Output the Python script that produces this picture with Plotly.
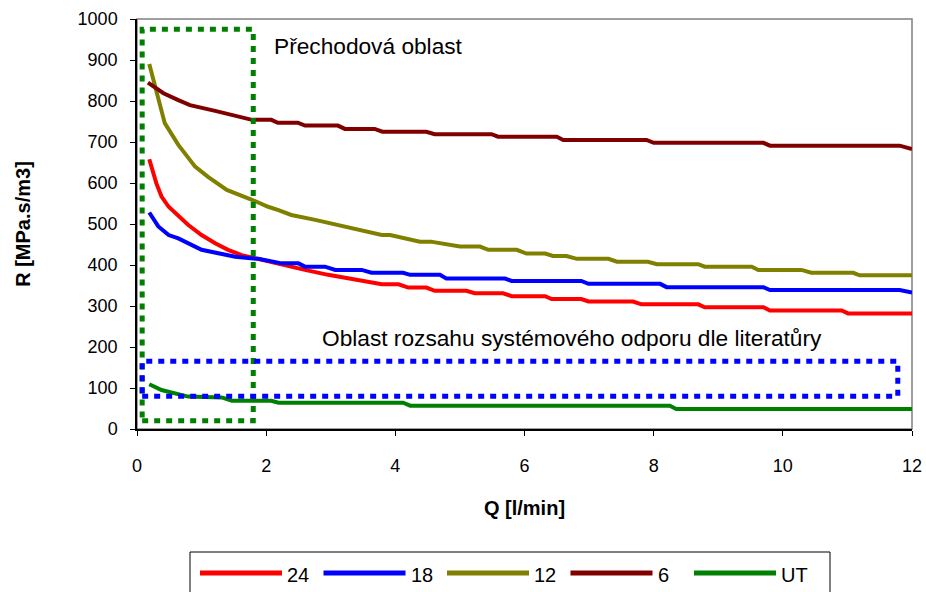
import plotly.graph_objects as go

# ---- data ----
q_24 = [0.19, 0.30, 0.38, 0.49, 0.79, 1.00, 1.21, 1.41, 1.62, 1.83, 2.24, 2.60, 2.96, 3.43, 3.79,
        4.05, 4.20, 4.48, 4.61, 5.10, 5.23, 5.67, 5.80, 6.32, 6.42, 6.88, 6.99, 7.68, 7.81,
        8.69, 8.79, 9.70, 9.80, 10.91, 11.01, 12.0]
r_24 = [658, 599, 567, 542, 498, 473, 453, 437, 424, 416, 400, 388, 376, 363, 353,
        353, 345, 345, 337, 337, 331, 331, 324, 324, 317, 317, 311, 311, 304,
        304, 297, 297, 289, 289, 282, 282]

q_18 = [0.19, 0.33, 0.49, 0.64, 1.00, 1.52, 1.88, 2.24, 2.50, 2.60, 2.91, 3.07, 3.48, 3.63,
        4.12, 4.23, 4.69, 4.79, 5.70, 5.80, 6.88, 6.99, 8.10, 8.20, 9.70, 9.80, 11.81, 12.0]
r_18 = [528, 494, 473, 465, 437, 420, 415, 404, 404, 396, 396, 388, 388, 381,
        381, 376, 376, 367, 367, 361, 361, 354, 354, 346, 346, 339, 339, 333]

q_12 = [0.19, 0.43, 0.64, 0.90, 1.10, 1.39, 1.78, 2.03, 2.19, 2.39, 2.76, 3.79, 3.92,
        4.38, 4.55, 5.00, 5.31, 5.44, 5.88, 6.03, 6.32, 6.44, 6.65, 6.81, 7.30, 7.43, 7.91,
        8.05, 8.69, 8.79, 9.52, 9.62, 10.29, 10.44, 11.09, 11.19, 12.0]
r_12 = [890, 746, 693, 640, 615, 583, 559, 542, 534, 522, 510, 473, 473,
        457, 457, 445, 445, 437, 437, 428, 428, 422, 422, 415, 415, 408, 408,
        402, 402, 396, 396, 388, 388, 381, 381, 375, 375]

q_6 = [0.17, 0.41, 0.64, 0.82, 1.21, 1.52, 1.78, 2.08, 2.18, 2.49, 2.60, 3.11, 3.22, 3.68,
       3.80, 4.48, 4.61, 5.49, 5.59, 6.50, 6.60, 7.89, 8.00, 9.70, 9.80, 11.81, 12.0]
r_6 = [845, 819, 802, 790, 776, 763, 754, 754, 747, 747, 740, 740, 732, 732,
       725, 725, 719, 719, 713, 713, 705, 705, 698, 698, 691, 691, 683]

q_ut = [0.19, 0.38, 0.79, 1.31, 1.47, 2.08, 2.19, 4.12, 4.23, 8.25, 8.35, 12.0]
r_ut = [109, 95, 79, 77, 69, 69, 64, 64, 57, 57, 49, 49]

series_names = ["24", "18", "12", "6", "UT"]
series_q = [q_24, q_18, q_12, q_6, q_ut]
series_r = [r_24, r_18, r_12, r_6, r_ut]
series_colors = ["#FF0000", "#0000FF", "#808000", "#800000", "#008000"]

# regions (data coordinates)
trans_box = dict(x0=0.08, x1=1.80, y0=20, y1=975)
lit_box = dict(x0=0.08, x1=11.78, y0=80, y1=165)
trans_label = "Přechodová oblast"
lit_label = "Oblast rozsahu systémového odporu dle literatůry"

x_ticks = [0, 2, 4, 6, 8, 10, 12]
y_ticks = list(range(0, 1001, 100))

FONT = "Liberation Sans, Arial, sans-serif"
W, H = 926, 592
ML, MR, MT, MB = 137, 14, 19, 163
PW, PH = W - ML - MR, H - MT - MB


def px_x(px):
    return (px - ML) / PW


def px_y(py):
    return (H - MB - py) / PH


fig = go.Figure()
for name, q, r, c in zip(series_names, series_q, series_r, series_colors):
    fig.add_trace(go.Scatter(x=q, y=r, mode="lines", name=name, showlegend=False,
                             line=dict(color=c, width=4)))

# plot-area frame
fig.add_shape(type="rect", xref="paper", yref="paper", x0=0, x1=1, y0=0, y1=1,
              line=dict(color="#808080", width=1.5), layer="below")
# highlighted regions
fig.add_shape(type="rect", xref="x", yref="y", **trans_box,
              line=dict(color="#008000", width=5, dash="6px,6px"))
fig.add_shape(type="rect", xref="x", yref="y", **lit_box,
              line=dict(color="#0000FF", width=5, dash="6px,6px"))

fig.add_annotation(x=2.09, y=935, xref="x", yref="y", text=trans_label,
                   showarrow=False, xanchor="left", yanchor="middle",
                   font=dict(size=22.7, color="black", family=FONT))
fig.add_annotation(x=2.84, y=222, xref="x", yref="y", text=lit_label,
                   showarrow=False, xanchor="left", yanchor="middle",
                   font=dict(size=22.7, color="black", family=FONT))

# legend (Excel style: long line swatches, box below the chart)
leg_left, leg_right, leg_top, leg_bottom = 190, 830, 552, 600
fig.add_shape(type="rect", xref="paper", yref="paper",
              x0=px_x(leg_left), x1=px_x(leg_right), y0=px_y(leg_bottom), y1=px_y(leg_top),
              line=dict(color="black", width=1), fillcolor="white", layer="above")
item_step, line_len, first_x, leg_y = 123.5, 82, 200, 573
for i, (name, c) in enumerate(zip(series_names, series_colors)):
    x0 = first_x + i * item_step
    fig.add_shape(type="line", xref="paper", yref="paper",
                  x0=px_x(x0), x1=px_x(x0 + line_len), y0=px_y(leg_y), y1=px_y(leg_y),
                  line=dict(color=c, width=5))
    fig.add_annotation(x=px_x(x0 + line_len + 3), y=px_y(leg_y + 2), xref="paper", yref="paper",
                       text=name, showarrow=False, xanchor="left", yanchor="middle",
                       font=dict(size=20, color="black", family=FONT))

fig.update_layout(
    width=W, height=H,
    margin=dict(l=ML, r=MR, t=MT, b=MB, autoexpand=False),
    paper_bgcolor="white", plot_bgcolor="white",
    font=dict(family=FONT, size=18, color="black"),
    showlegend=False,
)
fig.update_xaxes(range=[0, 12], tickvals=x_ticks, showgrid=False, zeroline=False,
                 showline=True, linecolor="black", linewidth=1.5, automargin=False,
                 ticks="outside", ticklen=5, tickcolor="black", ticklabelstandoff=15,
                 title=dict(text="<b>Q [l/min]</b>", font=dict(size=20), standoff=26))
fig.update_yaxes(range=[0, 1000], tickvals=y_ticks, showgrid=False, zeroline=False,
                 showline=True, linecolor="black", linewidth=1.5, automargin=False,
                 ticks="outside", ticklen=5, tickcolor="black", ticklabelstandoff=9,
                 title=dict(text="<b>R [MPa.s/m3]</b>", font=dict(size=20), standoff=42))

fig.write_html("out.html", config={"displayModeBar": False},
               post_script="document.body.style.margin='0';")
